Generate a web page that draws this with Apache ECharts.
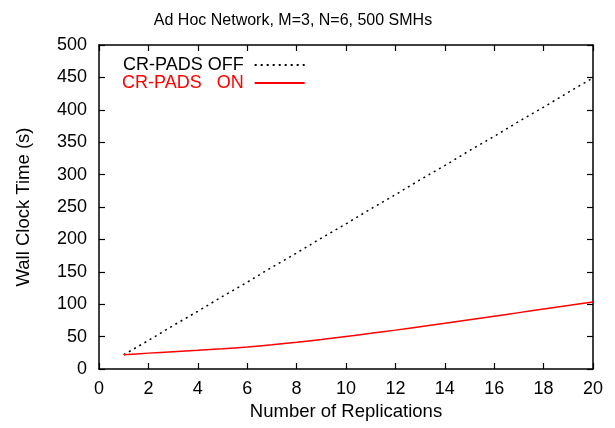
<!DOCTYPE html>
<html><head><meta charset="utf-8">
<script src="https://cdn.jsdelivr.net/npm/echarts@6/dist/echarts.min.js"></script>
<style>html,body{margin:0;padding:0;background:#fff}#c{width:615px;height:428px}</style>
</head><body><div id="c"></div>
<script>
const replications = [1,2,3,4,5,6,7,8,9,10,11,12,13,14,15,16,17,18,19,20];
const padsOff = [22,44,67,89,112,134,157,179,202,224,247,269,292,314,337,359,382,404,427,449];
const padsOn = [22,24.5,26.7,28.8,31.2,34,37.4,41.2,45.5,50.2,55,60,65.2,70.5,76,81.5,87,92.5,98,103.5];
const titleText = 'Ad Hoc Network, M=3, N=6, 500 SMHs';
const xName = 'Number of Replications';
const yName = 'Wall Clock Time (s)';
const offName = 'CR-PADS OFF';
const onName = 'CR-PADS   ON';

const font = 'Liberation Sans, Arial, Helvetica, sans-serif';
const chart = echarts.init(document.getElementById('c'));
function ax(extra) {
  return Object.assign({
    axisLine: {show: true, onZero: false, lineStyle: {color: '#000', width: 1.5}},
    axisTick: {show: true, inside: true, length: 6, lineStyle: {color: '#000', width: 1.2}},
    splitLine: {show: false}
  }, extra);
}
chart.setOption({
  animation: false,
  backgroundColor: '#fff',
  title: {text: titleText, left: 288, top: 8, textAlign: 'center',
    textStyle: {fontFamily: font, fontSize: 16, fontWeight: 'normal', color: '#000'}},
  legend: {
    orient: 'vertical', left: 117, top: 51, align: 'right', itemGap: 0,
    itemWidth: 50, itemHeight: 14,
    itemStyle: {opacity: 0},
    textStyle: {fontFamily: font, fontSize: 18, padding: [0, 6, 0, 0]},
    data: [
      {name: offName, textStyle: {color: '#000'}},
      {name: onName, textStyle: {color: '#f00'}}
    ]
  },
  grid: {left: 99, right: 22, top: 45, bottom: 59},
  xAxis: [
    ax({type: 'value', min: 0, max: 20, interval: 2, position: 'bottom',
      name: xName, nameLocation: 'middle', nameGap: 33,
      nameTextStyle: {fontFamily: font, fontSize: 18.5, color: '#000'},
      axisLabel: {fontFamily: font, fontSize: 18, color: '#000', margin: 11}}),
    ax({type: 'value', min: 0, max: 20, interval: 2, position: 'top',
      axisLabel: {show: false}})
  ],
  yAxis: [
    ax({type: 'value', min: 0, max: 500, interval: 50, position: 'left',
      name: yName, nameLocation: 'middle', nameGap: 66, nameRotate: 90,
      nameTextStyle: {fontFamily: font, fontSize: 18.5, color: '#000'},
      axisLabel: {fontFamily: font, fontSize: 18, color: '#000', margin: 12}}),
    ax({type: 'value', min: 0, max: 500, interval: 50, position: 'right',
      axisLabel: {show: false}})
  ],
  series: [
    {name: offName, type: 'line', showSymbol: false, symbol: 'none',
      data: replications.map((x, i) => [x, padsOff[i]]),
      lineStyle: {color: '#000', width: 1.5, type: [2, 4]}, itemStyle: {color: '#000'}},
    {name: onName, type: 'line', showSymbol: false, symbol: 'none', smooth: 0.2,
      data: replications.map((x, i) => [x, padsOn[i]]),
      lineStyle: {color: '#f00', width: 1.5}, itemStyle: {color: '#f00'}}
  ]
});
</script></body></html>
